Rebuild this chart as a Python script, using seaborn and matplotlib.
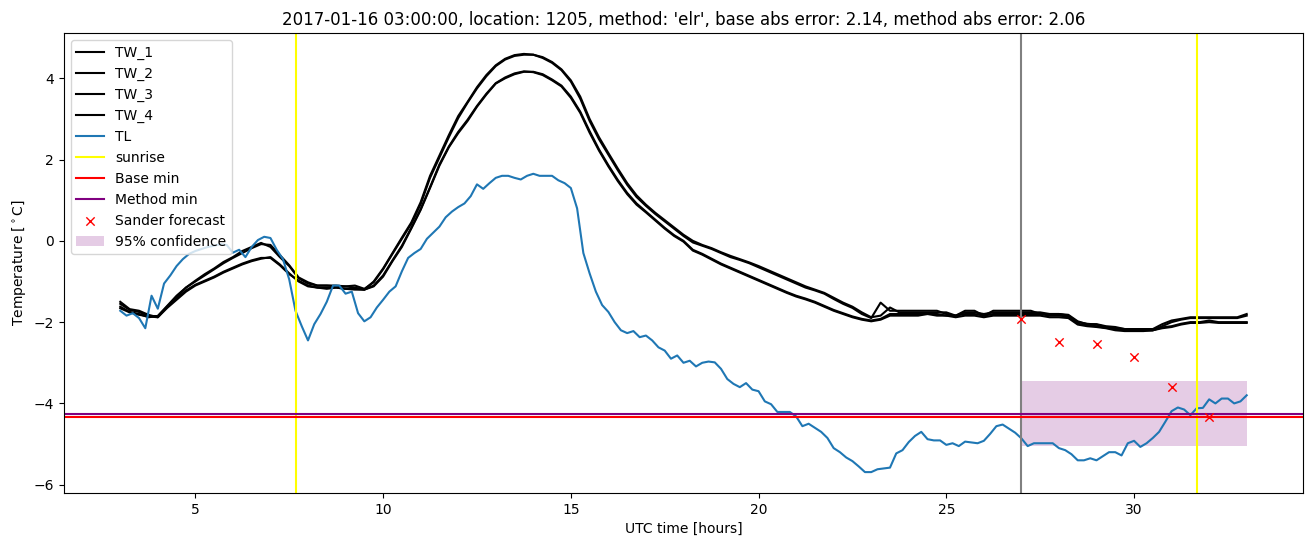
import numpy as np
import matplotlib
matplotlib.use('Agg')
import matplotlib.pyplot as plt
import seaborn as sns

TITLE = ("2017-01-16 03:00:00, location: 1205, method: 'elr', "
         "base abs error: 2.14, method abs error: 2.06")

# road sensor temps, every 15 min from 03:00 to 09:00 next day
tw_hours = np.arange(3, 33.01, 0.25)

tw_1 = [
    -1.55, -1.70, -1.75, -1.85,
    -1.85, -1.60, -1.35, -1.15,
    -0.98, -0.82, -0.68, -0.52,
    -0.40, -0.25, -0.15, -0.05,
    -0.15, -0.40, -0.62, -0.92,
    -1.05, -1.10, -1.10, -1.10,
    -1.12, -1.15, -1.20, -1.00,
    -0.68, -0.30, 0.08, 0.45,
    0.95, 1.60, 2.10, 2.60,
    3.07, 3.42, 3.78, 4.08,
    4.32, 4.48, 4.57, 4.60,
    4.58, 4.50, 4.38, 4.20,
    3.92, 3.50, 2.95, 2.50,
    2.12, 1.74, 1.38, 1.08,
    0.86, 0.66, 0.48, 0.30,
    0.12, -0.04, -0.12, -0.20,
    -0.30, -0.40, -0.47, -0.55,
    -0.65, -0.75, -0.85, -0.95,
    -1.05, -1.15, -1.22, -1.30,
    -1.43, -1.55, -1.65, -1.80,
    -1.90, -1.52, -1.72, -1.72,
    -1.72, -1.72, -1.72, -1.72,
    -1.80, -1.84, -1.72, -1.72,
    -1.84, -1.72, -1.72, -1.72,
    -1.72, -1.72, -1.80, -1.80,
    -1.80, -1.82, -1.98, -2.05,
    -2.05, -2.10, -2.12, -2.17,
    -2.17, -2.17, -2.17, -2.05,
    -1.96, -1.92, -1.88, -1.88,
    -1.88, -1.88, -1.88, -1.88,
    -1.80,
]

tw_2 = [
    -1.50, -1.68, -1.72, -1.82,
    -1.88, -1.62, -1.38, -1.15,
    -1.00, -0.85, -0.70, -0.55,
    -0.42, -0.30, -0.18, -0.08,
    -0.10, -0.35, -0.60, -0.90,
    -1.02, -1.10, -1.10, -1.12,
    -1.12, -1.10, -1.18, -1.02,
    -0.70, -0.32, 0.05, 0.42,
    0.90, 1.55, 2.05, 2.55,
    3.02, 3.40, 3.75, 4.05,
    4.30, 4.46, 4.55, 4.58,
    4.58, 4.52, 4.40, 4.22,
    3.95, 3.55, 3.00, 2.55,
    2.16, 1.78, 1.42, 1.12,
    0.89, 0.69, 0.51, 0.33,
    0.15, 0.00, -0.10, -0.18,
    -0.28, -0.37, -0.45, -0.53,
    -0.62, -0.72, -0.82, -0.92,
    -1.02, -1.12, -1.20, -1.28,
    -1.40, -1.52, -1.62, -1.76,
    -1.88, -1.84, -1.64, -1.76,
    -1.76, -1.76, -1.76, -1.76,
    -1.76, -1.84, -1.76, -1.76,
    -1.80, -1.76, -1.76, -1.76,
    -1.76, -1.76, -1.76, -1.80,
    -1.80, -1.84, -2.00, -2.04,
    -2.06, -2.12, -2.15, -2.17,
    -2.20, -2.20, -2.20, -2.10,
    -2.00, -1.94, -1.90, -1.90,
    -1.90, -1.90, -1.90, -1.90,
    -1.84,
]

tw_3 = [
    -1.62, -1.75, -1.80, -1.88,
    -1.85, -1.62, -1.42, -1.22,
    -1.08, -0.98, -0.88, -0.76,
    -0.66, -0.56, -0.48, -0.42,
    -0.42, -0.60, -0.82, -0.98,
    -1.10, -1.15, -1.15, -1.15,
    -1.18, -1.20, -1.20, -1.12,
    -0.88, -0.50, -0.15, 0.30,
    0.76, 1.30, 1.85, 2.30,
    2.65, 2.95, 3.30, 3.60,
    3.87, 4.00, 4.10, 4.16,
    4.16, 4.10, 3.97, 3.82,
    3.55, 3.18, 2.70, 2.25,
    1.86, 1.50, 1.18, 0.92,
    0.72, 0.52, 0.32, 0.14,
    0.00, -0.22, -0.32, -0.44,
    -0.56, -0.66, -0.76, -0.86,
    -0.96, -1.06, -1.16, -1.26,
    -1.35, -1.42, -1.50, -1.60,
    -1.70, -1.78, -1.86, -1.92,
    -1.96, -1.92, -1.80, -1.80,
    -1.80, -1.80, -1.80, -1.80,
    -1.84, -1.84, -1.80, -1.80,
    -1.84, -1.80, -1.80, -1.80,
    -1.80, -1.80, -1.80, -1.84,
    -1.84, -1.86, -2.04, -2.08,
    -2.10, -2.14, -2.17, -2.20,
    -2.20, -2.20, -2.20, -2.13,
    -2.10, -2.04, -2.00, -2.00,
    -1.96, -2.00, -2.00, -2.00,
    -2.00,
]

tw_4 = [
    -1.66, -1.76, -1.82, -1.86,
    -1.88, -1.65, -1.45, -1.25,
    -1.10, -1.00, -0.90, -0.78,
    -0.68, -0.58, -0.50, -0.44,
    -0.40, -0.58, -0.80, -1.00,
    -1.12, -1.15, -1.18, -1.15,
    -1.18, -1.18, -1.20, -1.10,
    -0.85, -0.48, -0.12, 0.32,
    0.78, 1.32, 1.88, 2.32,
    2.68, 2.98, 3.32, 3.62,
    3.88, 4.02, 4.12, 4.17,
    4.15, 4.08, 3.95, 3.80,
    3.52, 3.15, 2.66, 2.22,
    1.83, 1.47, 1.15, 0.89,
    0.70, 0.50, 0.30, 0.12,
    -0.02, -0.24, -0.34, -0.46,
    -0.58, -0.68, -0.78, -0.88,
    -0.98, -1.08, -1.18, -1.28,
    -1.37, -1.44, -1.52, -1.62,
    -1.72, -1.80, -1.88, -1.94,
    -1.98, -1.94, -1.84, -1.84,
    -1.84, -1.84, -1.80, -1.84,
    -1.84, -1.88, -1.84, -1.84,
    -1.88, -1.84, -1.84, -1.84,
    -1.84, -1.84, -1.84, -1.88,
    -1.88, -1.90, -2.06, -2.10,
    -2.12, -2.15, -2.20, -2.22,
    -2.22, -2.22, -2.20, -2.15,
    -2.12, -2.06, -2.02, -2.02,
    -2.00, -2.02, -2.02, -2.02,
    -2.02,
]

# air temperature, every 10 min
tl_hours = np.linspace(3, 33, 181)
tl = [
    -1.72, -1.84, -1.78, -1.90, -2.15, -1.35,
    -1.67, -1.05, -0.85, -0.62, -0.45, -0.32,
    -0.25, -0.20, -0.15, -0.12, -0.08, -0.10,
    -0.29, -0.22, -0.40, -0.15, 0.02, 0.10,
    0.07, -0.22, -0.45, -0.95, -1.72, -2.10,
    -2.45, -2.05, -1.80, -1.50, -1.10, -1.10,
    -1.30, -1.25, -1.78, -1.98, -1.88, -1.64,
    -1.45, -1.25, -1.12, -0.75, -0.42, -0.30,
    -0.20, 0.05, 0.20, 0.35, 0.58, 0.72,
    0.83, 0.92, 1.10, 1.39, 1.28, 1.42,
    1.55, 1.60, 1.60, 1.55, 1.51, 1.60,
    1.65, 1.60, 1.60, 1.60, 1.49, 1.42,
    1.30, 0.80, -0.30, -0.80, -1.25, -1.58,
    -1.75, -2.00, -2.20, -2.27, -2.22, -2.37,
    -2.33, -2.45, -2.62, -2.70, -2.90, -2.82,
    -3.00, -2.95, -3.09, -3.00, -2.97, -2.99,
    -3.15, -3.40, -3.52, -3.60, -3.50, -3.66,
    -3.70, -3.95, -4.02, -4.21, -4.21, -4.21,
    -4.32, -4.56, -4.50, -4.60, -4.70, -4.85,
    -5.10, -5.20, -5.33, -5.42, -5.55, -5.69,
    -5.69, -5.62, -5.60, -5.58, -5.23, -5.15,
    -4.95, -4.80, -4.70, -4.88, -4.91, -4.91,
    -5.02, -4.98, -5.05, -4.94, -4.96, -4.98,
    -4.92, -4.75, -4.56, -4.52, -4.62, -4.72,
    -4.86, -5.05, -4.98, -4.98, -4.98, -4.98,
    -5.10, -5.15, -5.25, -5.40, -5.40, -5.35,
    -5.40, -5.30, -5.20, -5.20, -5.28, -4.98,
    -4.92, -5.07, -4.98, -4.85, -4.70, -4.45,
    -4.19, -4.10, -4.15, -4.29, -4.12, -4.11,
    -3.90, -4.00, -3.88, -3.88, -4.00, -3.95,
    -3.80,
]

sunrise_hours = [7.69, 31.68]
forecast_start = 27
base_min = -4.33
method_min = -4.25

forecast_hours = [27, 28, 29, 30, 31, 32]
forecast_values = [-1.92, -2.48, -2.54, -2.85, -3.60, -4.34]

conf_hours = [27, 33]
conf_low = [-5.06, -5.06]
conf_high = [-3.46, -3.46]


def main():
    fig, ax = plt.subplots(figsize=(13.13, 5.47), dpi=100)
    fig.subplots_adjust(left=0.0487, right=0.9924, top=0.9397, bottom=0.0987)

    for name, vals in [('TW_1', tw_1), ('TW_2', tw_2), ('TW_3', tw_3), ('TW_4', tw_4)]:
        sns.lineplot(x=tw_hours, y=vals, color='black', label=name, ax=ax)
    sns.lineplot(x=tl_hours, y=tl, color='tab:blue', label='TL', ax=ax)

    ax.axvline(sunrise_hours[0], color='yellow', label='sunrise')
    ax.axvline(sunrise_hours[1], color='yellow')
    ax.axvline(forecast_start, color='gray')
    ax.axhline(base_min, color='red', label='Base min')
    ax.axhline(method_min, color='purple', label='Method min')

    sns.scatterplot(x=forecast_hours, y=forecast_values, marker='x', color='red',
                    s=36, linewidth=1.0, label='Sander forecast', ax=ax, zorder=3)
    ax.fill_between(conf_hours, conf_low, conf_high, color='purple', alpha=0.2,
                    linewidth=0, label='95% confidence')

    ax.set_title(TITLE)
    ax.set_xlabel('UTC time [hours]')
    ax.set_ylabel(r'Temperature [$^\circ$C]')
    ax.legend(loc='upper left')

    fig.savefig('out.png', dpi=100)


if __name__ == '__main__':
    main()
